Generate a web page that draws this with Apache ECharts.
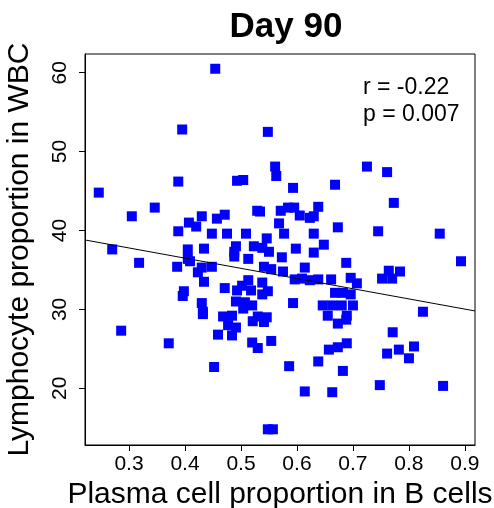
<!DOCTYPE html>
<html>
<head>
<meta charset="utf-8">
<script src="https://cdn.jsdelivr.net/npm/echarts@6/dist/echarts.min.js"></script>
<style>
  html, body { margin: 0; padding: 0; background: #fff; }
  #chart { width: 494px; height: 508px; }
</style>
</head>
<body>
<div id="chart"></div>
<script>
// plasma cell proportion in B cells (x) and lymphocyte proportion in WBC (y)
const plasmaShare = [
  0.246, 0.270, 0.286, 0.305, 0.318, 0.346, 0.371, 0.388, 0.395, 0.454,
  0.548, 0.561, 0.563, 0.493, 0.504, 0.725, 0.761, 0.593, 0.668, 0.773,
  0.855, 0.893, 0.745, 0.825, 0.593, 0.673, 0.688,
  0.752, 0.764, 0.770, 0.784,
  0.571, 0.584, 0.595, 0.605, 0.623, 0.630, 0.638, 0.568, 0.577, 0.630,
  0.598, 0.648, 0.630, 0.573, 0.614, 0.575, 0.596, 0.609, 0.623, 0.638,
  0.661, 0.696, 0.707, 0.668, 0.682, 0.696, 0.646, 0.663, 0.680, 0.700,
  0.655, 0.689,
  0.673, 0.688, 0.771, 0.761, 0.782, 0.800, 0.809, 0.657, 0.673, 0.689,
  0.638, 0.586, 0.682, 0.614, 0.663, 0.748, 0.861, 0.554,
  0.452, 0.459, 0.484, 0.477, 0.491, 0.468, 0.484, 0.432, 0.521, 0.541,
  0.546, 0.520, 0.530, 0.548, 0.557,
  0.388, 0.407, 0.420, 0.430, 0.457, 0.471, 0.448, 0.475, 0.509, 0.529,
  0.534, 0.546, 0.405, 0.405, 0.386, 0.409, 0.434, 0.423, 0.434, 0.430,
  0.448, 0.491, 0.488, 0.488, 0.513, 0.523, 0.538, 0.550, 0.541, 0.554,
  0.471, 0.493, 0.502, 0.513, 0.518, 0.538, 0.548, 0.538, 0.398, 0.396,
  0.430, 0.432, 0.491, 0.507, 0.504, 0.520, 0.530
];
const lymphShare = [
  44.8, 37.6, 27.3, 41.8, 35.9, 42.9, 25.7, 46.2, 52.8, 60.5,
  52.5, 48.1, 46.9, 46.3, 46.4, 48.1, 47.4, 45.4, 45.8, 43.5,
  39.6, 36.1, 39.9, 29.7, 30.8, 40.4, 35.9,
  33.9, 34.9, 33.9, 34.8,
  42.5, 42.9, 42.9, 41.9, 41.6, 41.8, 43.0, 40.9, 39.6, 39.6,
  37.7, 38.2, 37.2, 36.6, 35.3, 34.8, 33.8, 33.9, 33.7, 33.8,
  33.8, 34.0, 33.3, 32.1, 32.1, 31.9, 30.5, 30.5, 30.5, 30.5,
  29.2, 29.2,
  28.2, 28.7, 27.1, 24.4, 24.9, 23.8, 25.3, 24.9, 25.2, 25.7,
  23.4, 22.8, 22.2, 19.6, 19.5, 20.4, 20.3, 26.0,
  22.7, 26.8, 26.7, 28.0, 27.7, 29.1, 29.2, 29.4, 28.5, 28.4,
  29.0, 25.8, 25.1, 14.8, 14.8,
  39.9, 41.0, 40.5, 41.8, 41.5, 42.0, 39.6, 39.6, 39.6, 42.5,
  42.4, 39.0, 37.6, 36.4, 35.4, 36.1, 37.7, 34.7, 33.5, 35.3,
  35.4, 38.0, 37.3, 36.7, 36.4, 38.0, 37.8, 37.3, 35.4, 35.1,
  32.7, 32.4, 33.0, 33.7, 32.4, 33.4, 32.3, 31.9, 32.3, 31.7,
  30.8, 29.7, 31.0, 30.9, 30.1, 30.5, 29.1
];

// fitted line, endpoints at the plot edges
const fitX = [0.2214, 0.918];
const fitY = [38.8, 29.8];

const xTicks = [0.3, 0.4, 0.5, 0.6, 0.7, 0.8, 0.9];
const yTicks = [20, 30, 40, 50, 60];

const chartDom = document.getElementById('chart');
const myChart = echarts.init(chartDom);

const font = 'Liberation Sans, Arial, Helvetica, sans-serif';
const points = plasmaShare.map((x, i) => [x, lymphShare[i]]);
const fitLine = fitX.map((x, i) => [x, fitY[i]]);

const option = {
  animation: false,
  title: {
    text: 'Day 90',
    left: 281,
    top: 5,
    textAlign: 'center',
    textStyle: { fontFamily: font, fontSize: 35, fontWeight: 'bold', color: '#000' },
  },
  grid: {
    left: 85,
    top: 54,
    width: 390,
    height: 391,
    outerBoundsMode: 'none',
    containLabel: false,
    show: true,
    borderColor: '#000',
    borderWidth: 1,
  },
  xAxis: {
    type: 'value',
    min: 0.2214,
    max: 0.918,
    name: 'Plasma cell proportion in B cells',
    nameLocation: 'middle',
    nameGap: 30,
    nameTextStyle: { fontFamily: font, fontSize: 30, color: '#000' },
    axisLine: { show: true, lineStyle: { color: '#000', width: 1 } },
    axisTick: { show: true, length: 6, customValues: xTicks, lineStyle: { color: '#000' } },
    axisLabel: {
      customValues: xTicks,
      margin: 9,
      fontFamily: font,
      fontSize: 21,
      color: '#000',
      formatter: v => v.toFixed(1),
    },
    splitLine: { show: false },
  },
  yAxis: {
    type: 'value',
    min: 12.81,
    max: 62.37,
    name: 'Lymphocyte proportion in WBC',
    nameLocation: 'middle',
    nameGap: 50,
    nameRotate: 90,
    nameTextStyle: { fontFamily: font, fontSize: 30, color: '#000' },
    axisLine: { show: true, lineStyle: { color: '#000', width: 1 } },
    axisTick: { show: true, length: 6, customValues: yTicks, lineStyle: { color: '#000' } },
    axisLabel: {
      customValues: yTicks,
      rotate: 90,
      margin: 14,
      fontFamily: font,
      fontSize: 21,
      color: '#000',
    },
    splitLine: { show: false },
  },
  graphic: [
    {
      type: 'text',
      left: 363,
      top: 74,
      style: {
        text: 'r = -0.22\np = 0.007',
        fontFamily: font,
        fontSize: 23,
        lineHeight: 27,
        fill: '#000',
      },
    },
  ],
  series: [
    {
      type: 'scatter',
      data: points,
      symbol: 'rect',
      symbolSize: 10,
      itemStyle: { color: '#0000ff', opacity: 1 },
      z: 2,
    },
    {
      type: 'line',
      data: fitLine,
      showSymbol: false,
      lineStyle: { color: '#000', width: 1 },
      z: 3,
    },
  ],
};

myChart.setOption(option);
</script>
</body>
</html>
